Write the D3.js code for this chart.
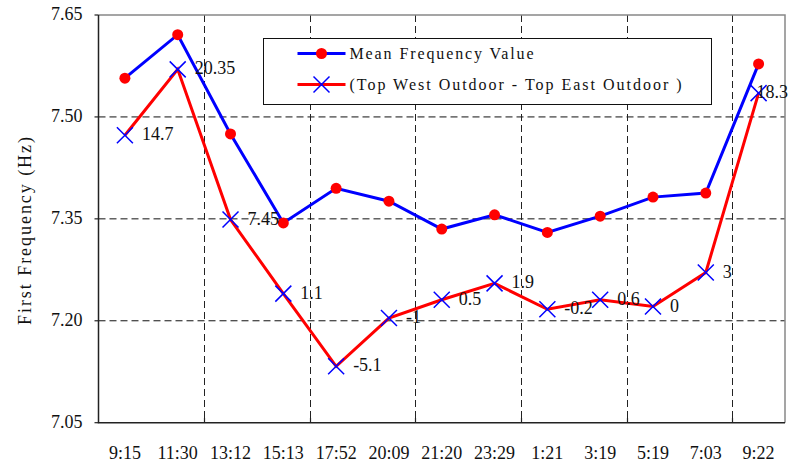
<!DOCTYPE html>
<html>
<head>
<meta charset="utf-8">
<script src="https://cdn.jsdelivr.net/npm/d3@7"></script>
<style>
  body { margin: 0; background: #fff; }
</style>
</head>
<body>
<svg width="797" height="464"></svg>
<script>
const times = ["9:15", "11:30", "13:12", "15:13", "17:52", "20:09", "21:20",
  "23:29", "1:21", "3:19", "5:19", "7:03", "9:22"];

const meanFreq = [7.557, 7.621, 7.475, 7.344, 7.395, 7.376, 7.335,
  7.356, 7.330, 7.354, 7.382, 7.388, 7.578];

const diffFreq = [7.473, 7.570, 7.349, 7.240, 7.133, 7.204, 7.231,
  7.255, 7.217, 7.231, 7.221, 7.271, 7.535];

const diffLabels = ["14.7", "20.35", "7.45", "1.1", "-5.1", "-1", "0.5",
  "1.9", "-0.2", "0.6", "0", "3", "18.3"];

const yTicks = [7.05, 7.20, 7.35, 7.50, 7.65];

const seriesNames = ["Mean Frequency Value", "(Top West Outdoor - Top East Outdoor )"];

const FONT = "Liberation Serif";

const margin = { left: 98.5, right: 785, top: 15, bottom: 422.7 };

const svg = d3.select("svg");

const x = d3
  .scaleBand()
  .domain(times)
  .range([margin.left, margin.right]);

const y = d3
  .scaleLinear()
  .domain([7.05, 7.65])
  .range([margin.bottom, margin.top]);

const cx = d => x(d) + x.bandwidth() / 2;

// horizontal grid
svg
  .selectAll("line.hgrid")
  .data(yTicks.slice(1, -1))
  .enter()
  .append("line")
  .attr("class", "hgrid")
  .attr("x1", margin.left)
  .attr("x2", margin.right)
  .attr("y1", d => y(d))
  .attr("y2", d => y(d))
  .attr("stroke", "#111")
  .attr("stroke-width", 1)
  .attr("stroke-dasharray", "7,4");

// vertical grid every second category boundary
const vBounds = times.filter((d, i) => i > 0 && i % 2 === 0);
svg
  .selectAll("line.vgrid")
  .data(vBounds)
  .enter()
  .append("line")
  .attr("class", "vgrid")
  .attr("x1", d => Math.round(x(d)) + 0.5)
  .attr("x2", d => Math.round(x(d)) + 0.5)
  .attr("y1", margin.top)
  .attr("y2", margin.bottom)
  .attr("stroke", "#222")
  .attr("stroke-width", 1)
  .attr("stroke-dasharray", "7,4");

// bottom ticks (inward)
svg
  .selectAll("line.xtick")
  .data(vBounds)
  .enter()
  .append("line")
  .attr("x1", d => Math.round(x(d)) + 0.5)
  .attr("x2", d => Math.round(x(d)) + 0.5)
  .attr("y1", margin.bottom)
  .attr("y2", margin.bottom - 5)
  .attr("stroke", "#222")
  .attr("stroke-width", 1.2);

// frame
svg
  .append("path")
  .attr("d", `M${margin.left},${margin.top}H${margin.right}V${margin.bottom}`)
  .attr("fill", "none")
  .attr("stroke", "#888")
  .attr("stroke-width", 1.5);

svg
  .append("path")
  .attr("d", `M${margin.left},${margin.top}V${margin.bottom}H${margin.right}`)
  .attr("fill", "none")
  .attr("stroke", "#222")
  .attr("stroke-width", 1.5);

// y ticks
svg
  .selectAll("line.ytick")
  .data(yTicks)
  .enter()
  .append("line")
  .attr("x1", margin.left - 4)
  .attr("x2", margin.left)
  .attr("y1", d => y(d))
  .attr("y2", d => y(d))
  .attr("stroke", "#222")
  .attr("stroke-width", 1.2);

svg
  .selectAll("text.ylab")
  .data(yTicks)
  .enter()
  .append("text")
  .style("font-family", FONT)
  .style("font-size", "18px")
  .style("fill", "#111")
  .attr("x", margin.left - 16)
  .attr("y", d => y(d) + 5)
  .attr("text-anchor", "end")
  .text(d => d.toFixed(2));

svg
  .selectAll("text.xlab")
  .data(times)
  .enter()
  .append("text")
  .style("font-family", FONT)
  .style("font-size", "18px")
  .style("fill", "#111")
  .attr("x", d => cx(d))
  .attr("y", 459)
  .attr("text-anchor", "middle")
  .text(d => d);

svg
  .append("text")
  .attr("transform", "translate(31, 231) rotate(-90)")
  .attr("text-anchor", "middle")
  .style("font-family", FONT)
  .style("font-size", "18px")
  .style("fill", "#111")
  .attr("textLength", 188)
  .attr("lengthAdjust", "spacing")
  .text("First Frequency (Hz)");

const line = d3
  .line()
  .x((d, i) => cx(times[i]))
  .y(d => y(d));

// mean series
svg
  .append("path")
  .datum(meanFreq)
  .attr("d", line)
  .attr("fill", "none")
  .attr("stroke", "#0000ff")
  .attr("stroke-width", 3);

svg
  .selectAll("circle.mean")
  .data(meanFreq)
  .enter()
  .append("circle")
  .attr("cx", (d, i) => cx(times[i]))
  .attr("cy", d => y(d))
  .attr("r", 5.5)
  .attr("fill", "#ff0000");

// difference series
svg
  .append("path")
  .datum(diffFreq)
  .attr("d", line)
  .attr("fill", "none")
  .attr("stroke", "#ff0000")
  .attr("stroke-width", 3);

const cross = (px, py, s) =>
  `M${px - s},${py - s}L${px + s},${py + s}M${px - s},${py + s}L${px + s},${py - s}`;

svg
  .selectAll("path.cross")
  .data(diffFreq)
  .enter()
  .append("path")
  .attr("d", (d, i) => cross(cx(times[i]), y(d), 8))
  .attr("stroke", "#0000ff")
  .attr("stroke-width", 1.5)
  .attr("fill", "none");

svg
  .selectAll("text.pl")
  .data(diffFreq)
  .enter()
  .append("text")
  .style("font-family", FONT)
  .style("font-size", "18px")
  .style("fill", "#111")
  .attr("x", (d, i) => cx(times[i]) + 17)
  .attr("y", d => y(d) + 5)
  .text((d, i) => diffLabels[i])
  .each(function () {
    // keep the last label inside the frame, sitting on its marker
    const box = this.getBBox();
    if (box.x + box.width > 792) {
      d3.select(this).attr("x", box.x - 19);
    }
  });

// legend
const legend = svg.append("g").attr("transform", "translate(263.5, 38.5)");

legend
  .append("rect")
  .attr("width", 448)
  .attr("height", 66)
  .attr("fill", "#fff")
  .attr("stroke", "#111")
  .attr("stroke-width", 1);

const legendWidths = [184, 332];

const rows = legend
  .selectAll("g.row")
  .data(seriesNames)
  .enter()
  .append("g")
  .attr("transform", (d, i) => `translate(0, ${15 + i * 31})`);

rows
  .append("line")
  .attr("x1", 34)
  .attr("x2", 82)
  .attr("stroke", (d, i) => (i === 0 ? "#0000ff" : "#ff0000"))
  .attr("stroke-width", 3);

rows
  .filter((d, i) => i === 0)
  .append("circle")
  .attr("cx", 58)
  .attr("r", 5.5)
  .attr("fill", "#ff0000");

rows
  .filter((d, i) => i === 1)
  .append("path")
  .attr("d", cross(58, 0, 8))
  .attr("stroke", "#0000ff")
  .attr("stroke-width", 1.5);

rows
  .append("text")
  .style("font-family", FONT)
  .style("font-size", "16px")
  .style("fill", "#111")
  .attr("x", 86)
  .attr("y", 5)
  .attr("textLength", (d, i) => legendWidths[i])
  .attr("lengthAdjust", "spacing")
  .text(d => d);
</script>
</body>
</html>
